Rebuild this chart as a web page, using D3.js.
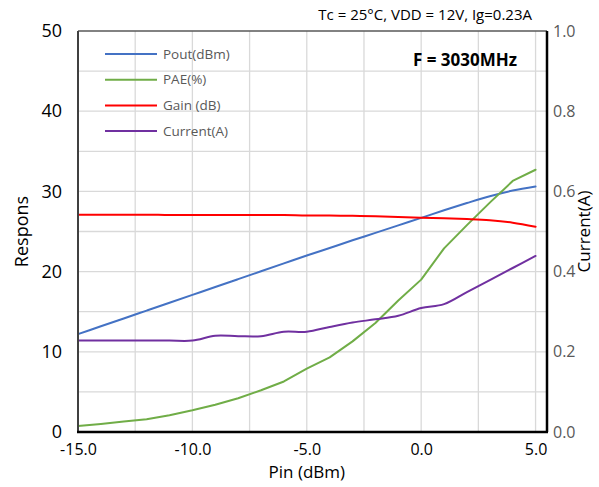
<!DOCTYPE html>
<html>
<head>
<meta charset="utf-8">
<script src="https://cdn.jsdelivr.net/npm/d3@7"></script>
<style>
  html, body { margin: 0; padding: 0; background: #fff; }
  svg { display: block; font-family: "Open Sans", "Liberation Sans", sans-serif; }
</style>
</head>
<body>
<div id="chart"></div>
<script>
// sweep points (dBm)
const pin = [-15, -14, -13, -12, -11, -10, -9, -8, -7, -6, -5, -4, -3, -2, -1, 0, 1, 2, 3, 4, 5];
const pout = [12.2, 13.18, 14.16, 15.14, 16.12, 17.1, 18.08, 19.06, 20.04, 21.02, 22.0, 22.95, 23.9, 24.83, 25.77, 26.7, 27.65, 28.55, 29.4, 30.1, 30.6];
const pae = [0.75, 1.0, 1.3, 1.6, 2.1, 2.7, 3.4, 4.2, 5.2, 6.3, 7.9, 9.3, 11.3, 13.6, 16.4, 19.0, 22.9, 25.8, 28.6, 31.3, 32.7];
const gain = [27.1, 27.1, 27.1, 27.1, 27.05, 27.05, 27.05, 27.05, 27.05, 27.05, 27.0, 27.0, 26.95, 26.9, 26.8, 26.7, 26.65, 26.55, 26.4, 26.1, 25.6];
const current = [0.228, 0.228, 0.228, 0.228, 0.228, 0.228, 0.240, 0.239, 0.239, 0.250, 0.250, 0.262, 0.273, 0.281, 0.290, 0.309, 0.319, 0.349, 0.379, 0.409, 0.439];

const xTicks = [-15, -10, -5, 0, 5];
const xGrid = [-12.5, -10, -7.5, -5, -2.5, 0, 2.5, 5];
const yTicks = [0, 10, 20, 30, 40, 50];
const yGrid = [5, 10, 15, 20, 25, 30, 35, 40, 45];
const y2Ticks = [0, 0.2, 0.4, 0.6, 0.8, 1.0];

const series = [
  { name: 'Pout(dBm)', values: pout, color: '#4472C4', axis: 'left', curve: d3.curveMonotoneX },
  { name: 'PAE(%)', values: pae, color: '#70AD47', axis: 'left', curve: d3.curveLinear },
  { name: 'Gain (dB)', values: gain, color: '#FF0000', axis: 'left', curve: d3.curveMonotoneX },
  { name: 'Current(A)', values: current, color: '#7030A0', axis: 'right', curve: d3.curveCatmullRom }
];

const W = 599, H = 487;
const m = { l: 78, r: 52, t: 31, b: 55 };
const svg = d3.select('#chart').append('svg').attr('width', W).attr('height', H);

const x = d3.scaleLinear().domain([-15, 5.5]).range([m.l, W - m.r]);
const y = d3.scaleLinear().domain([0, 50]).range([H - m.b, m.t]);
const y2 = d3.scaleLinear().domain([0, 1]).range([H - m.b, m.t]);

// grid
const grid = svg.append('g').attr('stroke', '#d9d9d9').attr('stroke-width', 1.3);
grid.selectAll('line.v').data(xGrid).join('line')
  .attr('x1', d => x(d)).attr('x2', d => x(d)).attr('y1', m.t).attr('y2', H - m.b);
grid.selectAll('line.h').data(yGrid).join('line')
  .attr('x1', m.l).attr('x2', W - m.r).attr('y1', d => y(d)).attr('y2', d => y(d));

// series lines
series.forEach(s => {
  const sc = s.axis === 'left' ? y : y2;
  const line = d3.line().x((d, i) => x(pin[i])).y(d => sc(d)).curve(s.curve);
  svg.append('path').datum(s.values).attr('d', line)
    .attr('fill', 'none').attr('stroke', s.color).attr('stroke-width', 2)
    .attr('stroke-linejoin', 'round').attr('stroke-linecap', 'round');
});

// frame
svg.append('line').attr('x1', m.l).attr('x2', W - m.r).attr('y1', m.t).attr('y2', m.t)
  .attr('stroke', '#595959').attr('stroke-width', 1.5);
svg.append('line').attr('x1', m.l).attr('x2', m.l).attr('y1', m.t).attr('y2', H - m.b)
  .attr('stroke', '#404040').attr('stroke-width', 2);
svg.append('line').attr('x1', m.l - 1).attr('x2', W - m.r + 1).attr('y1', H - m.b).attr('y2', H - m.b)
  .attr('stroke', '#000').attr('stroke-width', 2.5);
svg.append('line').attr('x1', W - m.r).attr('x2', W - m.r).attr('y1', m.t).attr('y2', H - m.b)
  .attr('stroke', '#000').attr('stroke-width', 2.5);

// tick labels
const xAxis = d3.axisBottom(x).tickValues(xTicks).tickFormat(d => d.toFixed(1)).tickSize(0).tickPadding(8);
svg.append('g').attr('transform', `translate(0,${H - m.b + 4})`).call(xAxis)
  .call(g => g.select('.domain').remove())
  .selectAll('text').attr('font-size', 16).attr('fill', '#000').attr('font-family', '"Open Sans", sans-serif');

const yAxis = d3.axisLeft(y).tickValues(yTicks).tickSize(0).tickPadding(16);
svg.append('g').attr('transform', `translate(${m.l},0)`).call(yAxis)
  .call(g => g.select('.domain').remove())
  .selectAll('text').attr('font-size', 18).attr('fill', '#000').attr('font-family', '"Open Sans", sans-serif');

const y2Axis = d3.axisRight(y2).tickValues(y2Ticks).tickFormat(d => d.toFixed(1)).tickSize(0).tickPadding(6);
svg.append('g').attr('transform', `translate(${W - m.r},0)`).call(y2Axis)
  .call(g => g.select('.domain').remove())
  .selectAll('text').attr('font-size', 16).attr('fill', '#595959').attr('font-family', '"Open Sans", sans-serif');

// axis titles
svg.append('text').attr('x', x(-5)).attr('y', 478).attr('text-anchor', 'middle')
  .attr('font-size', 17).attr('fill', '#000').text('Pin (dBm)');
svg.append('text').attr('transform', `translate(28,${(m.t + H - m.b) / 2}) rotate(-90)`)
  .attr('text-anchor', 'middle').attr('font-size', 18).attr('fill', '#000').text('Respons');
svg.append('text').attr('transform', `translate(590,${(m.t + H - m.b) / 2}) rotate(-90)`)
  .attr('text-anchor', 'middle').attr('font-size', 17).attr('fill', '#000').text('Current(A)');

// titles
svg.append('text').attr('x', 532).attr('y', 20).attr('text-anchor', 'end')
  .attr('font-size', 15).attr('fill', '#000').text('Tc = 25°C, VDD = 12V, Ig=0.23A');
svg.append('text').attr('x', 517).attr('y', 66).attr('text-anchor', 'end')
  .attr('font-size', 17).attr('font-weight', 700).attr('fill', '#000').text('F = 3030MHz');

// legend
const leg = svg.append('g').attr('transform', 'translate(105,54)');
const li = leg.selectAll('g').data(series).join('g').attr('transform', (d, i) => `translate(0,${i * 25.7})`);
li.append('line').attr('x1', 0).attr('x2', 52).attr('stroke', d => d.color).attr('stroke-width', 2);
li.append('text').attr('x', 58).attr('dy', '0.35em').attr('font-size', 13.5).attr('fill', '#595959').text(d => d.name);
</script>
</body>
</html>
